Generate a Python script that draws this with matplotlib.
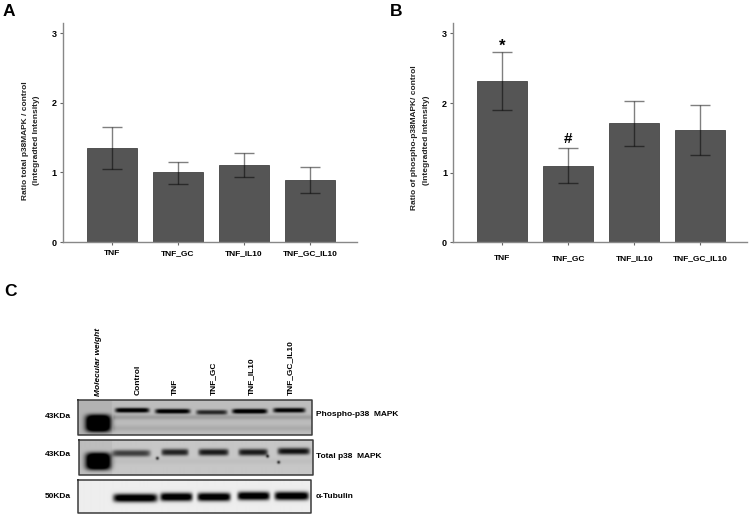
import numpy as np
from matplotlib import pyplot as plt

W, H = 750, 517

groups = ['TNF', 'TNF_GC', 'TNF_IL10', 'TNF_GC_IL10']
total_vals = [1.35, 1.00, 1.11, 0.89]
total_hi = [1.65, 1.15, 1.28, 1.08]
total_lo = [1.05, 0.84, 0.94, 0.71]
phospho_vals = [2.31, 1.10, 1.71, 1.61]
phospho_hi = [2.73, 1.35, 2.03, 1.97]
phospho_lo = [1.90, 0.85, 1.38, 1.26]
y_ticks = [0, 1, 2, 3]

lanes = ['Control', 'TNF', 'TNF_GC', 'TNF_IL10', 'TNF_GC_IL10']
lane_x = [138, 175, 213, 251, 290]
# blot bands: horizontal span of each band and its strength, 0-1
phospho_span = [(115, 149), (155, 190), (196, 227), (232, 267), (273, 305)]
phospho_band = [0.95, 0.95, 0.7, 1.0, 0.9]
phospho_y = [410, 411, 412, 411, 410]
total_span = [(112, 150), (161, 188), (198, 228), (238, 267), (277, 309)]
total_band = [0.6, 0.72, 0.76, 0.76, 0.8]
total_y = [453, 452, 452, 452, 451]
tubulin_span = [(113, 157), (160, 192), (197, 230), (237, 269), (274, 308)]
tubulin_band = [1.0, 1.0, 1.0, 1.0, 1.0]
tubulin_y = [498, 497, 497, 496, 496]
speck_x = [157, 278, 267]
speck_y = [458, 462, 456]

plt.rcParams['font.family'] = ['Liberation Sans', 'DejaVu Sans']
plt.rcParams['font.weight'] = 'bold'

fig = plt.figure(figsize=(W / 100, H / 100), dpi=100)


def box(left, top, right, bottom):
    return [left / W, 1 - bottom / H, (right - left) / W, (bottom - top) / H]


def bar_panel(rect, vals, hi, lo, tick_pad):
    ax = fig.add_axes(box(*rect))
    x = np.arange(len(groups))
    ax.bar(x, vals, width=0.755, color='#555555', edgecolor='#444444', linewidth=0.6)
    vals = np.array(vals)
    yerr = [vals - np.array(lo), np.array(hi) - vals]
    ax.errorbar(x, vals, yerr=yerr, fmt='none', ecolor=(0, 0, 0, 0.5),
                elinewidth=1, capsize=7.5, capthick=1)
    ax.set_xlim(-0.742, 3.71)
    ax.set_ylim(0, 3.15)
    ax.set_yticks(y_ticks)
    ax.set_xticks(x)
    ax.set_xticklabels(groups, va='baseline')
    ax.tick_params(axis='both', labelsize=6, length=2.5, width=0.8, color='#666666')
    ax.tick_params(axis='x', pad=tick_pad)
    ax.tick_params(axis='y', pad=2, labelsize=6.5)
    for s in ['top', 'right']:
        ax.spines[s].set_visible(False)
    for s in ['left', 'bottom']:
        ax.spines[s].set_color('#888888')
        ax.spines[s].set_linewidth(1)
    return ax


bar_panel((63, 23, 357, 242), total_vals, total_hi, total_lo, 7)
ax_b = bar_panel((453.3, 23, 747, 242.3), phospho_vals, phospho_hi, phospho_lo, 10)
ax_b.text(0, 2.81, '*', ha='center', va='center', fontsize=12)
ax_b.text(1, 1.48, '#', ha='center', va='center', fontsize=11)

fig.text(26 / W, 1 - 141 / H, 'Ratio total p38MAPK / control', rotation=90, fontsize=6,
         ha='center', va='center', color='#222222')
fig.text(37 / W, 1 - 140 / H, '(Integradted Intensity)', rotation=90, fontsize=6,
         ha='center', va='center', color='#222222')
fig.text(414 / W, 1 - 138 / H, 'Ratio of phospho-p38MAPK/ control', rotation=90, fontsize=6,
         ha='center', va='center', color='#222222')
fig.text(427 / W, 1 - 140 / H, '(Integradted Intensity)', rotation=90, fontsize=6,
         ha='center', va='center', color='#222222')

fig.text(3 / W, 1 - 11.5 / H, 'A', fontsize=12.5, va='center')
fig.text(390 / W, 1 - 11.5 / H, 'B', fontsize=12.5, va='center')
fig.text(4 / W, 1 - 292 / H, 'C', fontsize=12.5, va='center')

# blots, drawn on one overlay in pixel coordinates
ov = fig.add_axes([0, 0, 1, 1])
ov.axis('off')
ov.patch.set_alpha(0)


def blot(left, top, right, bottom, bg, spans, bands, band_ys, band_h, ladder_y=None, faint=(), specks=()):
    yy, xx = np.mgrid[top:bottom:0.5, left:right:0.5]
    img = np.full(xx.shape, bg, dtype=float)
    for fy, fh, fa in faint:
        img -= fa * np.exp(-((yy - fy) / fh) ** 2) * (xx > 113)
    for (x0, x1), s, by in zip(spans, bands, band_ys):
        cx = (x0 + x1) / 2
        hw = (x1 - x0) / 2
        lane = np.exp(-((xx - cx) / hw) ** 10)
        # flatter than a gaussian so that strong bands reach black in the core
        img -= s * bg * 1.15 * lane * np.exp(-np.abs((yy - by) / band_h) ** 2.5)
    if ladder_y is not None:
        img -= 0.04 * (xx < 112)
        img -= 1.2 * np.exp(-((xx - 98) / 12.5) ** 4 - ((yy - ladder_y) / 8.5) ** 4)
    for sx, sy in specks:
        img -= 0.6 * np.exp(-((xx - sx) ** 2 + (yy - sy) ** 2) / 2.5)
    img = np.clip(img, 0, 1)
    ov.imshow(img, cmap='gray', vmin=0, vmax=1, extent=(left, right, bottom, top),
              aspect='auto', zorder=2, interpolation='bilinear')
    ov.plot([left, right, right, left, left], [top, top, bottom, bottom, top],
            color='#3a3a3a', lw=1.1, zorder=3)


blot(78, 400, 312, 434.7, 0.74, phospho_span, phospho_band, phospho_y, 2.4, ladder_y=423,
     faint=((417, 2.5, 0.12), (428, 3, 0.07)))
blot(79, 440, 312.5, 475, 0.78, total_span, total_band, total_y, 3.4, ladder_y=461,
     faint=((461, 3, 0.03),), specks=list(zip(speck_x, speck_y)))
blot(78, 480.3, 310.5, 513.3, 0.93, tubulin_span, tubulin_band, tubulin_y, 4.2)
ov.set_xlim(0, W)
ov.set_ylim(H, 0)

for name, x in zip(lanes, lane_x):
    ov.text(x, 395, name, rotation=90, ha='center', va='bottom', fontsize=6)
ov.text(98, 396, 'Molecular weight', rotation=90, ha='center', va='bottom', fontsize=6, style='italic')

side_labels = ['Phospho-p38  MAPK', 'Total p38  MAPK', 'α-Tubulin']
side_y = [414, 457, 497]
kda_labels = ['43KDa', '43KDa', '50KDa']
kda_y = [417, 455, 497]
for t, y in zip(side_labels, side_y):
    ov.text(316, y, t, ha='left', va='center', fontsize=6)
for t, y in zip(kda_labels, kda_y):
    ov.text(71, y, t, ha='right', va='center', fontsize=6)

fig.savefig('out.png', dpi=100)
